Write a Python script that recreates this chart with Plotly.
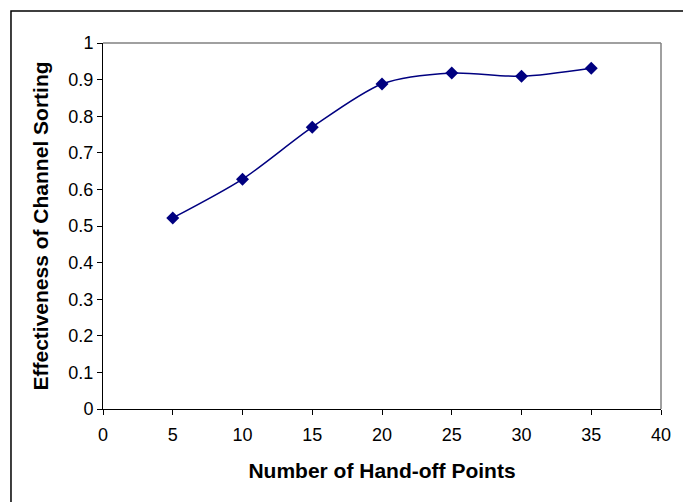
import plotly.graph_objects as go

handoff_points = [5, 10, 15, 20, 25, 30, 35]
effectiveness = [0.522, 0.628, 0.770, 0.888, 0.918, 0.909, 0.931]

x_ticks = [0, 5, 10, 15, 20, 25, 30, 35, 40]
y_ticks = [0, 0.1, 0.2, 0.3, 0.4, 0.5, 0.6, 0.7, 0.8, 0.9, 1]
y_tick_text = ["0", "0.1", "0.2", "0.3", "0.4", "0.5", "0.6", "0.7", "0.8", "0.9", "1"]

fig = go.Figure()
fig.add_trace(go.Scatter(
    x=handoff_points, y=effectiveness, mode="lines+markers",
    line=dict(color="#000080", width=1.5, shape="spline", smoothing=0.8),
    marker=dict(symbol="diamond", size=10, color="#000080"),
    showlegend=False,
))

font = "Liberation Sans, Arial, sans-serif"
fig.update_layout(
    width=683, height=494,
    margin=dict(l=95, r=30, t=35, b=93, autoexpand=False),
    paper_bgcolor="white", plot_bgcolor="white",
    font=dict(family=font, color="black", size=18),
    xaxis=dict(
        range=[0, 40], tickvals=x_ticks, ticktext=[str(v) for v in x_ticks],
        showgrid=False, zeroline=False, showline=True, linecolor="black", linewidth=1,
        ticks="outside", ticklen=5, tickcolor="black", automargin=False,
        ticklabelstandoff=4,
        title=dict(text="<b>Number of Hand-off Points</b>", font=dict(size=21, family=font), standoff=19),
        tickfont=dict(size=18),
    ),
    yaxis=dict(
        range=[0, 1], tickvals=y_ticks, ticktext=y_tick_text,
        showgrid=False, zeroline=False, showline=True, linecolor="black", linewidth=1,
        ticks="outside", ticklen=5, tickcolor="black", automargin=False,
        title=dict(text="<b>Effectiveness of Channel Sorting</b>", font=dict(size=21, family=font), standoff=14),
        tickfont=dict(size=18),
    ),
    shapes=[
        dict(type="line", xref="paper", yref="paper", x0=0, x1=1, y0=1, y1=1,
             line=dict(color="#808080", width=1.5)),
        dict(type="line", xref="paper", yref="paper", x0=1, x1=1, y0=0, y1=1,
             line=dict(color="#808080", width=1.5)),
        dict(type="rect", xref="paper", yref="paper", x0=-0.1649, x1=1.0484, y0=-0.27, y1=1.0874,
             line=dict(color="black", width=1.5), layer="below"),
    ],
)

fig.write_html("out.html")
